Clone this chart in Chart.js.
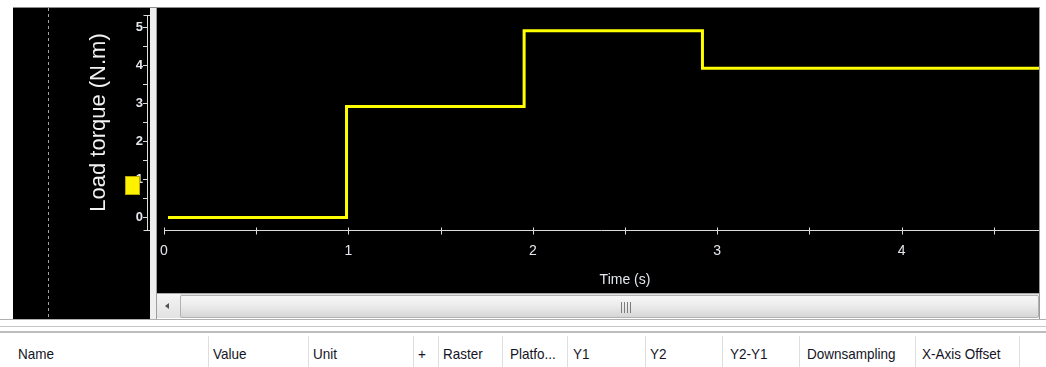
<!DOCTYPE html>
<html>
<head>
<meta charset="utf-8">
<title>Load torque</title>
<script src="https://cdn.jsdelivr.net/npm/chart.js@4.4.1/dist/chart.umd.min.js"></script>
<style>
  html, body { margin: 0; padding: 0; background: #fff; width: 1046px; height: 367px; overflow: hidden;
               font-family: "Liberation Sans", Arial, sans-serif; }
  .abs { position: absolute; }
  #leftPane  { left: 13px;  top: 8px; width: 137px; height: 312px; background: #000; z-index: 0; }
  #dash      { left: 48px;  top: 8px; width: 1px; height: 312px; z-index: 1;
               background: repeating-linear-gradient(to bottom, #a0a0a0 0 3px, transparent 3px 6px); }
  #plotPane  { left: 157px; top: 8px; width: 882px; height: 285px; background: #000; z-index: 0; }
  #frameTop  { left: 13px;  top: 7px; width: 1027px; height: 1px; background: #8c8c8c; z-index: 3; }
  #frameRight{ left: 1039px; top: 7px; width: 1px; height: 312px; background: #9a9a9a; z-index: 3; }
  canvas     { position: absolute; left: 0; top: 0; z-index: 2; }
  #splitter  { left: 150px; top: 8px; width: 6px; height: 312px; background: #efefef;
               border-right: 1px solid #9e9e9e; z-index: 3; }
  #scroll    { left: 157px; top: 293px; width: 882px; height: 25px; background: #e4e4e4; z-index: 3;
               border-top: 1px solid #a8a8a8; box-sizing: border-box; }
  #arrowBtn  { left: 0; top: 0; width: 23px; height: 24px; background: linear-gradient(#f4f4f4, #e2e2e2); }
  #arrow     { left: 8px; top: 9px; width: 0; height: 0; border-top: 3px solid transparent;
               border-bottom: 3px solid transparent; border-right: 4px solid #505050; }
  #thumb     { left: 23px; top: 1px; width: 857px; height: 21px; border: 1px solid #b2b2b2; border-radius: 2px;
               background: linear-gradient(#f7f7f7 0%, #ececec 45%, #d6d6d6 100%); }
  #grip      { left: 440px; top: 6px; width: 11px; height: 11px;
               background: repeating-linear-gradient(to right, #7c7c7c 0 1px, transparent 1px 3px); }
  #rule1     { left: 0; top: 319px; width: 1046px; height: 1px; background: #b0b0b0; z-index: 3; }
  #rule2     { left: 0; top: 326px; width: 1046px; height: 1px; background: #c6c6c6; z-index: 3; }
  #rule3     { left: 0; top: 331px; width: 1046px; height: 2px; background: #bdbdbd; z-index: 3; }
  #header    { left: 0; top: 334px; width: 1046px; height: 33px; background: #fff; z-index: 3; }
  .sep       { position: absolute; top: 2px; width: 1px; height: 31px; background: #dedede; }
  .col       { position: absolute; top: 12px; font-size: 13.5px; color: #141426; white-space: nowrap;
               transform: scaleY(1.15); transform-origin: 0 50%; }
</style>
</head>
<body>
<div id="leftPane" class="abs"></div>
<div id="dash" class="abs"></div>
<div id="plotPane" class="abs"></div>
<canvas id="scope" width="1046" height="367"></canvas>
<div id="frameTop" class="abs"></div>
<div id="frameRight" class="abs"></div>
<div id="splitter" class="abs"></div>
<div id="scroll" class="abs">
  <div id="arrowBtn" class="abs"><div id="arrow" class="abs"></div></div>
  <div id="thumb" class="abs"><div id="grip" class="abs"></div></div>
</div>
<div id="rule1" class="abs"></div>
<div id="rule2" class="abs"></div>
<div id="rule3" class="abs"></div>
<div id="header" class="abs"></div>

<script>
// Signal: load torque step profile (time in s, torque in N.m)
const stepTimes    = [0.022, 0.99, 1.953, 2.92, 4.8];
const torqueValues = [0, 2.92, 4.91, 3.92, 3.92];

// Axis ticks (labels only on whole numbers)
const timeTicks   = [0, 0.5, 1, 1.5, 2, 2.5, 3, 3.5, 4, 4.5];
const torqueTicks = [0, 0.5, 1, 1.5, 2, 2.5, 3, 3.5, 4, 4.5, 5];

// Visible window of the scope
const timeRange   = [-0.092, 4.745];
const torqueRange = [-0.328, 5.321];

// Signal table header
const columnNames = ['Name', 'Value', 'Unit', '+', 'Raster', 'Platfo...', 'Y1', 'Y2', 'Y2-Y1', 'Downsampling', 'X-Axis Offset'];
const columnTextX = [18, 213, 313, 418, 443, 510, 573, 650, 730, 807, 922];
const columnSepX  = [208, 308, 413, 438, 502, 567, 645, 722, 799, 915, 1019];

const header = document.getElementById('header');
columnNames.forEach((name, i) => {
  const d = document.createElement('div');
  d.className = 'col';
  d.style.left = columnTextX[i] + 'px';
  d.textContent = name;
  header.appendChild(d);
});
columnSepX.forEach(x => {
  const s = document.createElement('div');
  s.className = 'sep';
  s.style.left = x + 'px';
  header.appendChild(s);
});

const axisColor = '#dcdcdc';
const labelColor = '#e4e8ee';

// Draws the scope-style x axis (line with crossing ticks), the x title and the legend swatch
const scopeDecor = {
  id: 'scopeDecor',
  afterDraw(chart) {
    const { ctx, chartArea, scales: { x, y } } = chart;
    const yAxis = Math.round(chartArea.bottom) + 0.5;
    ctx.save();
    ctx.strokeStyle = axisColor;
    ctx.lineWidth = 1;
    ctx.beginPath();
    ctx.moveTo(Math.round(x.getPixelForValue(timeTicks[0])), yAxis);
    ctx.lineTo(chartArea.right, yAxis);
    x.ticks.forEach(t => {
      const px = Math.round(x.getPixelForValue(t.value)) + 0.5;
      ctx.moveTo(px, yAxis - 3);
      ctx.lineTo(px, yAxis + 4);
    });
    // end caps of the y axis
    const yx = Math.round(chartArea.left) + 0.5;
    [y.top, y.bottom].forEach(py => {
      const p = Math.round(py) + 0.5;
      ctx.moveTo(yx - 4, p);
      ctx.lineTo(yx + 3, p);
    });
    ctx.stroke();

    // x axis title, centred on t = 2.5 s
    ctx.fillStyle = labelColor;
    ctx.font = '14px "Liberation Sans", Arial, sans-serif';
    ctx.textAlign = 'center';
    ctx.textBaseline = 'middle';
    ctx.fillText('Time (s)', x.getPixelForValue(2.5), 280);

    // legend swatch of the signal on the y axis
    const sy = y.getPixelForValue(1);
    ctx.fillStyle = '#fff200';
    ctx.strokeStyle = '#b8a800';
    ctx.fillRect(125, Math.round(sy) - 3, 15, 19);
    ctx.strokeRect(125.5, Math.round(sy) - 2.5, 14, 18);
    ctx.restore();
  }
};

new Chart(document.getElementById('scope'), {
  type: 'line',
  data: {
    datasets: [{
      label: 'Load torque',
      data: stepTimes.map((t, i) => ({ x: t, y: torqueValues[i] })),
      borderColor: '#ffff00',
      borderWidth: 3,
      stepped: 'before',
      pointRadius: 0,
      fill: false
    }]
  },
  options: {
    responsive: false,
    animation: false,
    devicePixelRatio: 1,
    layout: { padding: { left: 86, top: 15, right: 7, bottom: 77 } },
    plugins: { legend: { display: false }, tooltip: { enabled: false } },
    scales: {
      x: {
        type: 'linear',
        min: timeRange[0],
        max: timeRange[1],
        afterBuildTicks: s => { s.ticks = timeTicks.map(v => ({ value: v })); },
        afterFit: s => { s.height = 60; },
        grid: { display: false },
        border: { display: false },
        ticks: {
          autoSkip: false, maxRotation: 0, padding: 5,
          color: labelColor,
          font: { family: '"Liberation Sans", Arial, sans-serif', size: 14 },
          callback: v => Number.isInteger(v) ? String(v) : ''
        },
        title: { display: false }
      },
      y: {
        type: 'linear',
        min: torqueRange[0],
        max: torqueRange[1],
        afterBuildTicks: s => { s.ticks = torqueTicks.map(v => ({ value: v })); },
        afterFit: s => { s.width = 61; },
        grid: { display: true, drawOnChartArea: false, drawTicks: true, tickLength: 4, color: axisColor, lineWidth: 1 },
        border: { display: true, color: axisColor, width: 1 },
        ticks: {
          autoSkip: false, padding: 0,
          color: labelColor,
          font: { family: '"Liberation Sans", Arial, sans-serif', size: 13, weight: 'bold' },
          callback: v => Number.isInteger(v) ? String(v) : ''
        },
        title: {
          display: true,
          text: 'Load torque (N.m)',
          color: '#f2f2f2',
          padding: 0,
          font: { family: '"Liberation Sans", Arial, sans-serif', size: 22 }
        }
      }
    }
  },
  plugins: [scopeDecor]
});
</script>
</body>
</html>
